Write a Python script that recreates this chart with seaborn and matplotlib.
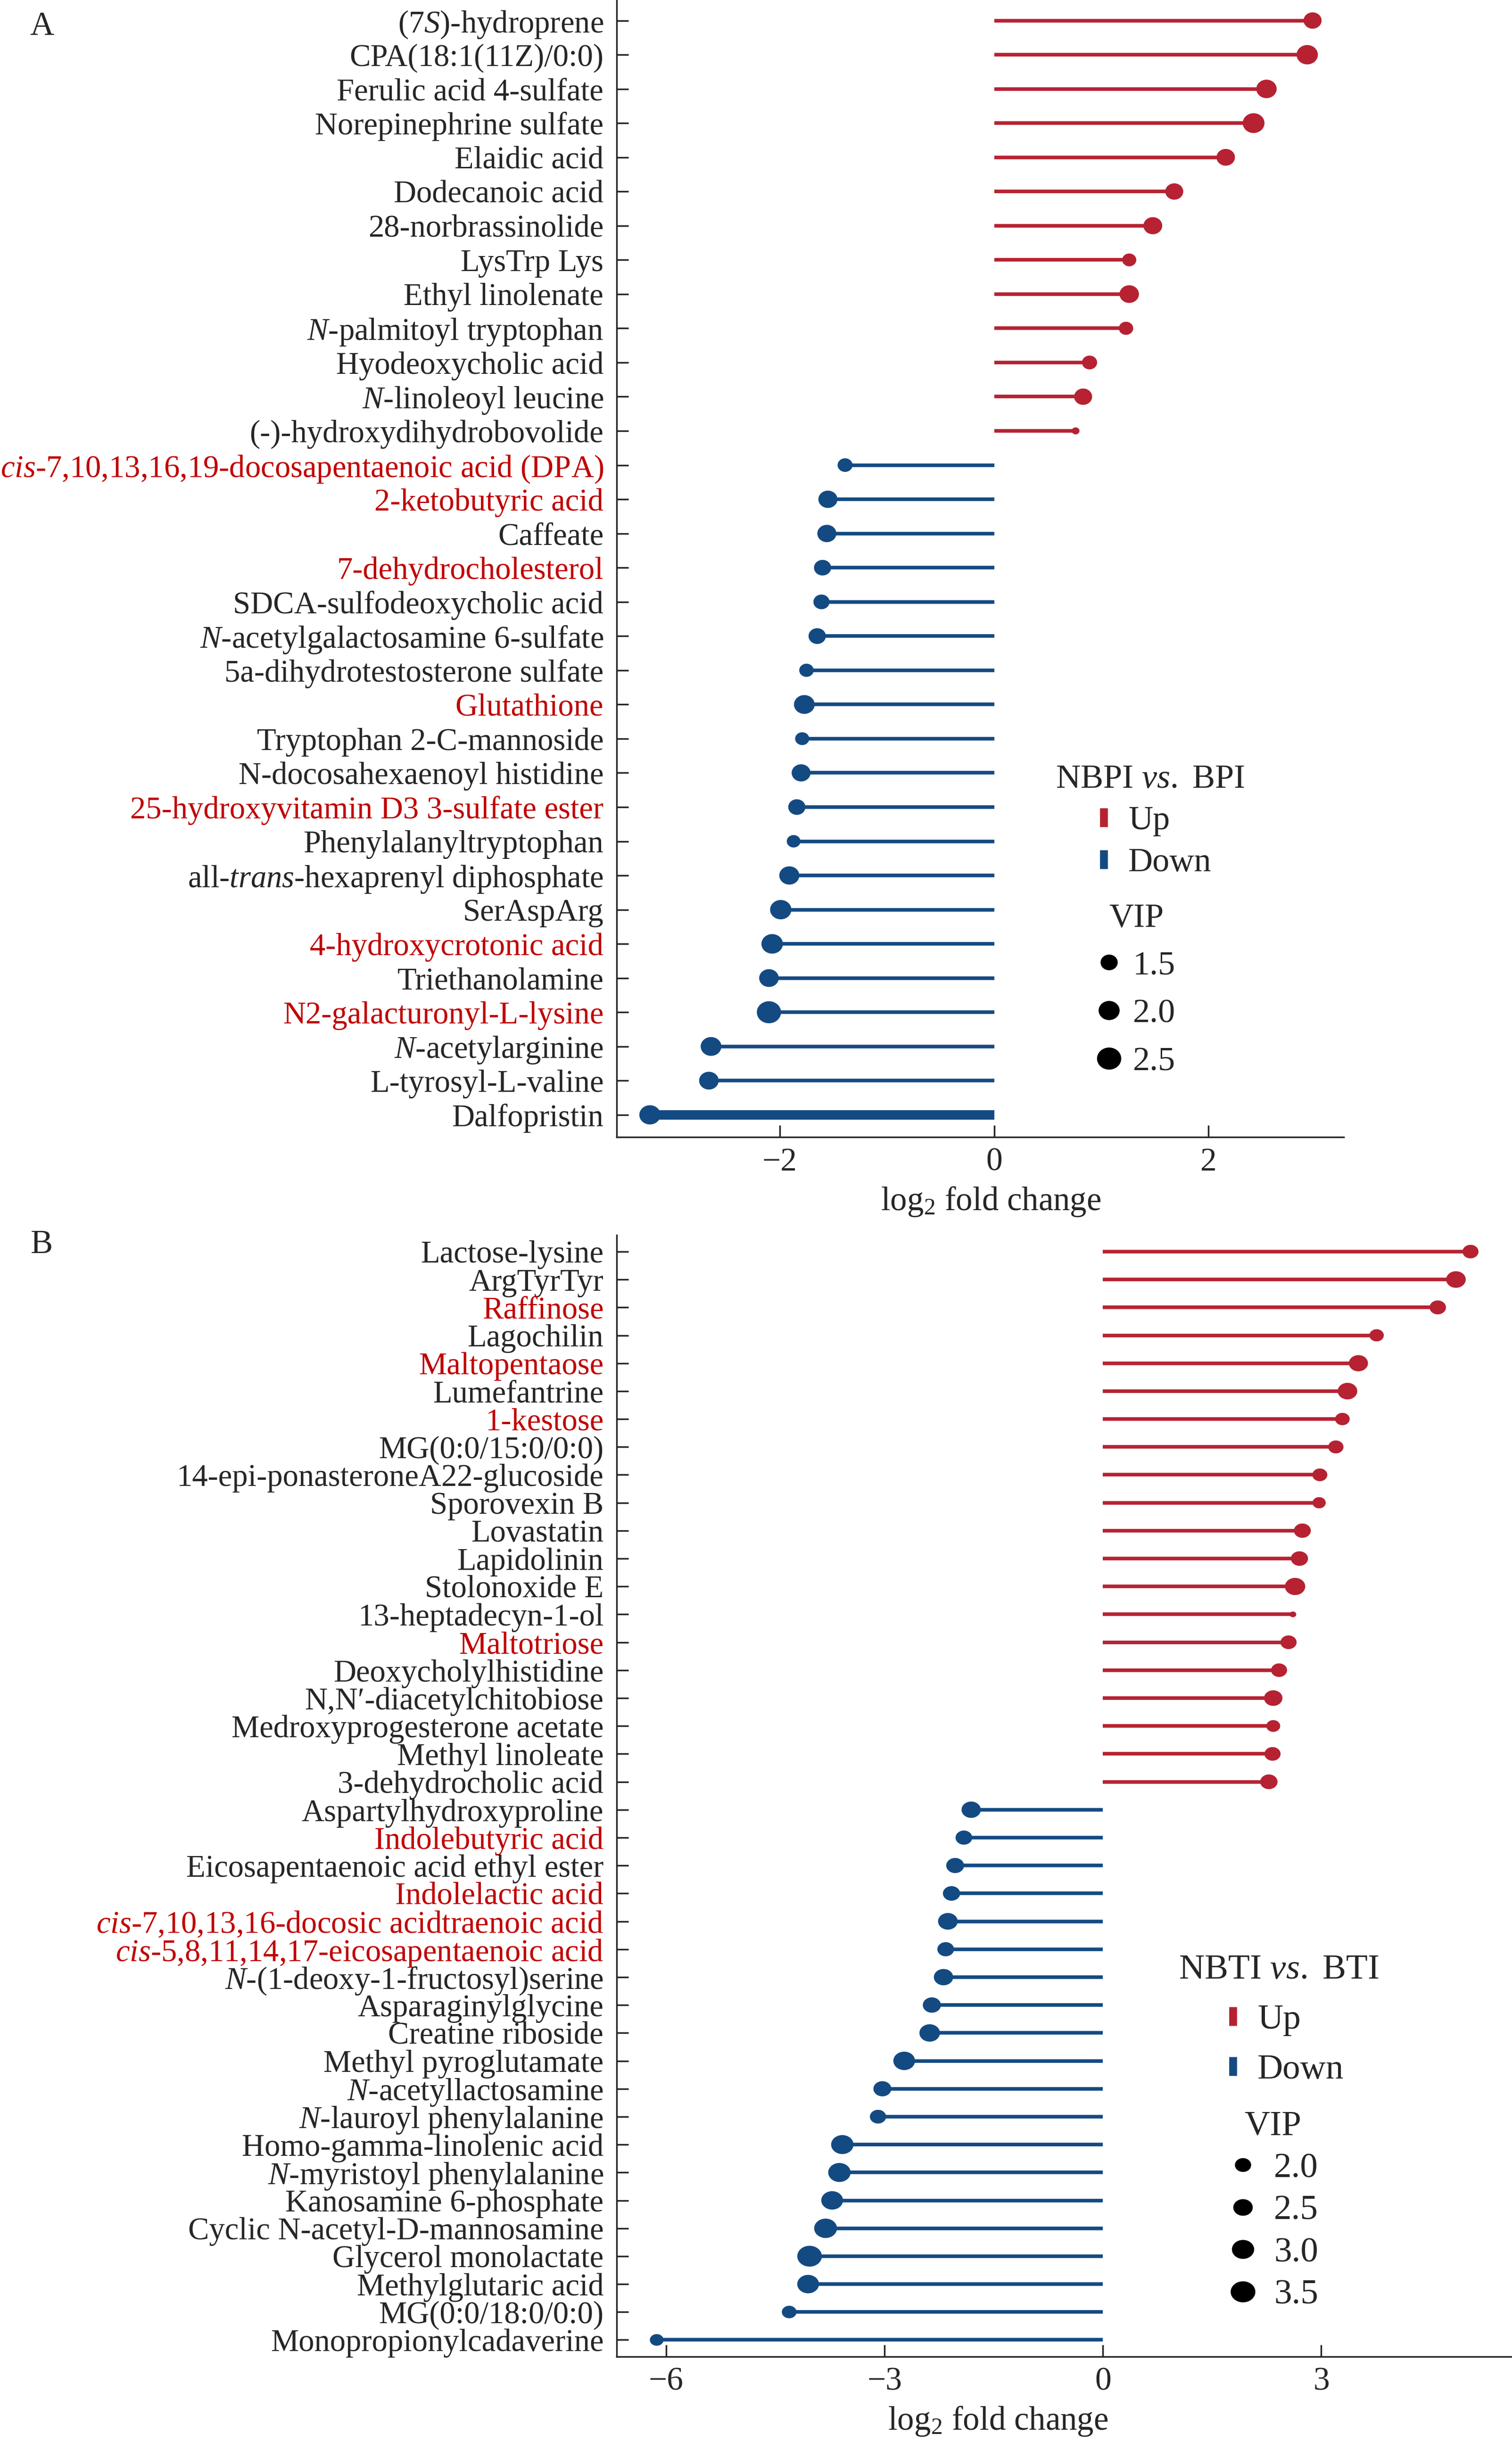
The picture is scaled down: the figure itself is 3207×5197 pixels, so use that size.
import numpy as np
import pandas as pd
import matplotlib
matplotlib.use("Agg")
import matplotlib.pyplot as plt
from matplotlib.lines import Line2D
from matplotlib.path import Path
import seaborn as sns

# ---- panel A: NBPI vs. BPI ----
a_names = [
    "(7$\\mathit{S}$)-hydroprene",
    "CPA(18:1(11Z)/0:0)",
    "Ferulic acid 4-sulfate",
    "Norepinephrine sulfate",
    "Elaidic acid",
    "Dodecanoic acid",
    "28-norbrassinolide",
    "LysTrp Lys",
    "Ethyl linolenate",
    "$\\mathit{N}$-palmitoyl tryptophan",
    "Hyodeoxycholic acid",
    "$\\mathit{N}$-linoleoyl leucine",
    "(-)-hydroxydihydrobovolide",
    "$\\mathit{cis}$-7,10,13,16,19-docosapentaenoic acid (DPA)",
    "2-ketobutyric acid",
    "Caffeate",
    "7-dehydrocholesterol",
    "SDCA-sulfodeoxycholic acid",
    "$\\mathit{N}$-acetylgalactosamine 6-sulfate",
    "5a-dihydrotestosterone sulfate",
    "Glutathione",
    "Tryptophan 2-C-mannoside",
    "N-docosahexaenoyl histidine",
    "25-hydroxyvitamin D3 3-sulfate ester",
    "Phenylalanyltryptophan",
    "all-$\\mathit{trans}$-hexaprenyl diphosphate",
    "SerAspArg",
    "4-hydroxycrotonic acid",
    "Triethanolamine",
    "N2-galacturonyl-L-lysine",
    "$\\mathit{N}$-acetylarginine",
    "L-tyrosyl-L-valine",
    "Dalfopristin",
]
a_log2fc = [2.97, 2.92, 2.54, 2.42, 2.16, 1.68, 1.48, 1.26, 1.26, 1.23, 0.89, 0.83, 0.76,
            -1.39, -1.55, -1.56, -1.60, -1.61, -1.65, -1.75, -1.77, -1.79, -1.80, -1.84,
            -1.87, -1.91, -1.99, -2.07, -2.10, -2.10, -2.64, -2.66, -3.21]
a_vip = [1.68, 2.14, 2.00, 2.21, 1.74, 1.68, 1.79, 1.24, 1.87, 1.27, 1.35, 1.68, 0.75,
         1.33, 1.82, 1.82, 1.58, 1.46, 1.60, 1.28, 2.05, 1.24, 1.80, 1.58, 1.20, 1.96,
         2.14, 2.17, 1.89, 2.61, 2.05, 1.89, 2.12]
a_red_labels = [
    "$\\mathit{cis}$-7,10,13,16,19-docosapentaenoic acid (DPA)",
    "2-ketobutyric acid", "7-dehydrocholesterol", "Glutathione",
    "25-hydroxyvitamin D3 3-sulfate ester", "4-hydroxycrotonic acid",
    "N2-galacturonyl-L-lysine",
]
a_vip_legend = [1.5, 2.0, 2.5]

# ---- panel B: NBTI vs. BTI ----
b_names = [
    "Lactose-lysine", "ArgTyrTyr", "Raffinose", "Lagochilin", "Maltopentaose",
    "Lumefantrine", "1-kestose", "MG(0:0/15:0/0:0)", "14-epi-ponasteroneA22-glucoside",
    "Sporovexin B", "Lovastatin", "Lapidolinin", "Stolonoxide E", "13-heptadecyn-1-ol",
    "Maltotriose", "Deoxycholylhistidine", "N,N\u2032-diacetylchitobiose",
    "Medroxyprogesterone acetate", "Methyl linoleate", "3-dehydrocholic acid",
    "Aspartylhydroxyproline", "Indolebutyric acid", "Eicosapentaenoic acid ethyl ester",
    "Indolelactic acid",
    "$\\mathit{cis}$-7,10,13,16-docosic acidtraenoic acid",
    "$\\mathit{cis}$-5,8,11,14,17-eicosapentaenoic acid",
    "$\\mathit{N}$-(1-deoxy-1-fructosyl)serine",
    "Asparaginylglycine", "Creatine riboside", "Methyl pyroglutamate",
    "$\\mathit{N}$-acetyllactosamine", "$\\mathit{N}$-lauroyl phenylalanine",
    "Homo-gamma-linolenic acid", "$\\mathit{N}$-myristoyl phenylalanine",
    "Kanosamine 6-phosphate", "Cyclic N-acetyl-D-mannosamine", "Glycerol monolactate",
    "Methylglutaric acid", "MG(0:0/18:0/0:0)", "Monopropionylcadaverine",
]
b_log2fc = [5.05, 4.85, 4.60, 3.76, 3.51, 3.36, 3.29, 3.20, 2.98, 2.97, 2.74, 2.70,
            2.64, 2.61, 2.55, 2.42, 2.34, 2.34, 2.33, 2.28,
            -1.81, -1.91, -2.03, -2.08, -2.13, -2.16, -2.19, -2.35, -2.38, -2.73,
            -3.03, -3.09, -3.58, -3.62, -3.72, -3.81, -4.03, -4.05, -4.31, -6.13]
b_vip = [2.06, 2.63, 2.12, 1.84, 2.55, 2.63, 1.87, 1.96, 1.92, 1.70, 2.19, 2.23,
         2.76, 1.12, 2.08, 2.06, 2.43, 1.78, 2.08, 2.26,
         2.58, 2.16, 2.34, 2.24, 2.64, 2.16, 2.58, 2.38, 2.80, 3.03, 2.35, 2.09,
         3.16, 3.16, 3.03, 3.25, 3.62, 3.03, 1.89, 1.76]
b_red_labels = [
    "Raffinose", "Maltopentaose", "1-kestose", "Maltotriose", "Indolebutyric acid",
    "Indolelactic acid", "$\\mathit{cis}$-7,10,13,16-docosic acidtraenoic acid",
    "$\\mathit{cis}$-5,8,11,14,17-eicosapentaenoic acid",
]
b_vip_legend = [2.0, 2.5, 3.0, 3.5]

RED = "#B62232"
BLUE = "#144A82"
LABEL_RED = "#C00000"
FS = 48

sns.set_theme(style="ticks")
plt.rcParams["font.family"] = ["Liberation Serif", "DejaVu Serif"]
plt.rcParams["mathtext.fontset"] = "custom"
plt.rcParams["mathtext.rm"] = "Liberation Serif"
plt.rcParams["mathtext.it"] = "Liberation Serif:italic"
plt.rcParams["mathtext.bf"] = "Liberation Serif:bold"
plt.rcParams["axes.linewidth"] = 2.5


def ellipse(aspect):
    t = np.linspace(0, 2 * np.pi, 72)
    return Path(np.column_stack([np.cos(t) * aspect, np.sin(t)]), closed=True)


def area(v, ref, sizes):
    # marker area (pt^2) linear in VIP, anchored on two legend levels
    return sizes[0] + (v - ref[0]) / (ref[1] - ref[0]) * (sizes[1] - sizes[0])


def lollipop(ax, names, fc, vip, red_labels, ref, sizes, aspect, xlim, xticks,
             ylim, xlabel_x, thick):
    df = pd.DataFrame({"name": names, "fc": fc, "vip": vip})
    df["pos"] = np.arange(len(df))
    df["direction"] = np.where(df["fc"] > 0, "Up", "Down")
    colors = [RED if d == "Up" else BLUE for d in df["direction"]]
    widths = [thick.get(n, 5.5) for n in df["name"]]
    ax.hlines(df["pos"], 0, df["fc"], colors=colors, linewidths=widths, zorder=2)
    # seaborn clips its size norm, so span the whole data range
    lo, hi = df["vip"].min(), df["vip"].max()
    sns.scatterplot(data=df, x="fc", y="pos", hue="direction",
                    palette={"Up": RED, "Down": BLUE}, size="vip",
                    sizes=(area(lo, ref, sizes), area(hi, ref, sizes)),
                    size_norm=(lo, hi), marker=ellipse(aspect), linewidth=0,
                    edgecolor="none", legend=False, ax=ax, zorder=3)
    ax.set_yticks(df["pos"])
    ax.set_yticklabels(df["name"], fontsize=FS)
    for lab, n in zip(ax.get_yticklabels(), df["name"]):
        if n in red_labels:
            lab.set_color(LABEL_RED)
    ax.set_ylim(*ylim)
    ax.set_xlim(*xlim)
    ax.set_xticks(xticks)
    ax.tick_params(axis="y", direction="in", length=18, width=2.5, pad=20)
    ax.tick_params(axis="x", direction="in", length=18, width=2.5, pad=16,
                   labelsize=50)
    ax.set_ylabel("")
    ax.set_xlabel("log$_2$ fold change", fontsize=51, labelpad=12)
    ax.xaxis.label.set_x(xlabel_x)
    sns.despine(ax=ax)


def legends(ax, fig, title, vip_levels, ref, sizes, aspect, pos1, pos2,
            sp1, sp2, pad1, pad2, hl1, hl2, fs):
    h1 = [Line2D([], [], linestyle="none", marker="|", markersize=29,
                 markeredgewidth=12, color=c) for c in (RED, BLUE)]
    leg1 = ax.legend(h1, ["Up", "Down"], title=title, loc="center",
                     bbox_to_anchor=pos1, bbox_transform=fig.transFigure,
                     frameon=False, fontsize=fs, title_fontsize=fs,
                     handlelength=hl1, handletextpad=pad1, labelspacing=sp1,
                     borderpad=0)
    ax.add_artist(leg1)
    h2 = [Line2D([], [], linestyle="none", marker=ellipse(aspect),
                 markersize=np.sqrt(area(v, ref, sizes)), color="black")
          for v in vip_levels]
    ax.legend(h2, [f"{v:.1f}" for v in vip_levels], title="VIP", loc="center",
              bbox_to_anchor=pos2, bbox_transform=fig.transFigure,
              frameon=False, fontsize=fs, title_fontsize=fs,
              handlelength=hl2, handletextpad=pad2, labelspacing=sp2,
              borderpad=0)


W, H = 3207, 5197
fig = plt.figure(figsize=(W / 100, H / 100), dpi=100)
ax_a = fig.add_axes([1308 / W, 1 - 2412 / H, (2850 - 1308) / W, 2412 / H])
ax_b = fig.add_axes([1308 / W, 1 - 4999 / H, (W - 1308) / W, (4999 - 2620) / H])

ref_a, sizes_a = (1.5, 2.5), (635, 1296)
ref_b, sizes_b = (2.0, 3.5), (565, 1348)

lollipop(ax_a, a_names, a_log2fc, a_vip, a_red_labels, ref_a, sizes_a, 1.1,
         (-3.52, 3.26), [-2, 0, 2], (32.65, -0.6), 0.515, {"Dalfopristin": 14.5})
lollipop(ax_b, b_names, b_log2fc, b_vip, b_red_labels, ref_b, sizes_b, 1.18,
         (-6.68, 5.62), [-6, -3, 0, 3], (39.6, -0.59), 0.426, {})

legends(ax_a, fig, "NBPI $\\mathit{vs.}$ BPI", a_vip_legend, ref_a, sizes_a, 1.1,
        (2440 / W, 1 - 1742 / H), (2410 / W, 1 - 2100 / H),
        0.32, 0.5, 0.3, 0.35, 0.85, 0.7, 52)
legends(ax_b, fig, "NBTI $\\mathit{vs.}$ BTI", b_vip_legend, ref_b, sizes_b, 1.18,
        (2712 / W, 1 - 4285 / H), (2700 / W, 1 - 4690 / H),
        0.5, 0.28, 0.15, 0.45, 1.1, 0.85, 54)

fig.text(89 / W, 1 - 56 / H, "A", fontsize=51, ha="center", va="center")
fig.text(89 / W, 1 - 2640 / H, "B", fontsize=51, ha="center", va="center")

fig.savefig("out.png", dpi=100)
